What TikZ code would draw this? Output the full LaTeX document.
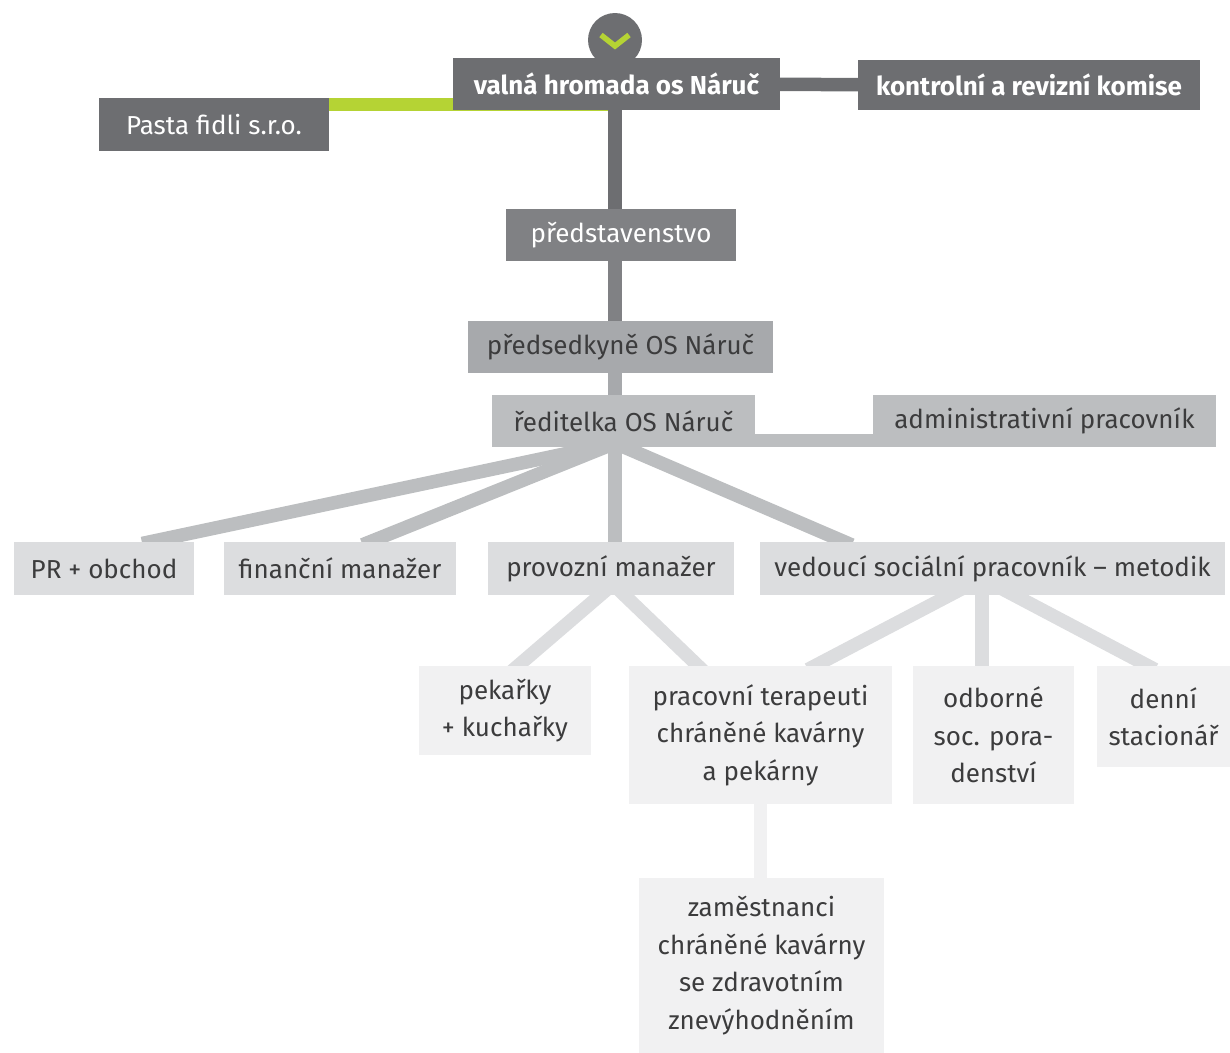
\documentclass[tikz,border=0pt]{standalone}
\usepackage{fontspec}
\setmainfont{Fira Sans}
\usepackage{xcolor}
\usepackage{tikz}
\usetikzlibrary{shapes,arrows}
\pgfdeclarelayer{background}
\pgfsetlayers{background,main}
\definecolor{boardGray}{HTML}{6D6E71}
\definecolor{memberGray}{HTML}{808184}
\definecolor{chairGray}{HTML}{A7A9AC}
\definecolor{headGray}{HTML}{BCBEC0}
\definecolor{teamGray}{HTML}{DCDDDF}
\definecolor{staffGray}{HTML}{F1F1F2}
\definecolor{linkGreen}{HTML}{B5D334}
\definecolor{textGray}{HTML}{3C3C3D}
\tikzstyle{box} = [rectangle, inner sep=0pt, align=center, font=\fontsize{26bp}{37.5bp}\selectfont]
\tikzstyle{topBlock} = [box, fill=boardGray, text=white, minimum height=52bp, font=\fontsize{26bp}{37.5bp}\selectfont\bfseries]
\tikzstyle{darkBlock} = [box, fill=boardGray, text=white, minimum height=53bp]
\tikzstyle{memberBlock} = [box, fill=memberGray, text=white, minimum height=52bp]
\tikzstyle{chairBlock} = [box, fill=chairGray, text=textGray, minimum height=52bp]
\tikzstyle{headBlock} = [box, fill=headGray, text=textGray, minimum height=52bp]
\tikzstyle{teamBlock} = [box, fill=teamGray, text=textGray, minimum height=53bp]
\tikzstyle{staffBlock} = [box, fill=staffGray, text=textGray]
\tikzstyle{line} = [draw, line width=13.5bp]
\tikzstyle{chevron} = [draw=linkGreen, line width=5.5bp]
\begin{document}
\begin{tikzpicture}[x=1bp, y=1bp]
    \useasboundingbox (0,0) rectangle (1230,-1053);
    % Place nodes
    \node [circle, fill=boardGray, minimum size=54bp, inner sep=0pt] (knob) at (615,-40) {};
    \node [topBlock, minimum width=327bp] (valna) at (616.5,-84) {valná hromada os Náruč};
    \node [topBlock, minimum width=342bp, minimum height=50bp] (komise) at (1029,-85) {kontrolní a revizní komise};
    \node [darkBlock, minimum width=230bp] (pasta) at (214,-124.5) {Pasta fidli s.r.o.};
    \node [memberBlock, minimum width=230bp] (pred) at (621,-235) {představenstvo};
    \node [chairBlock, minimum width=305bp] (predseda) at (620.5,-347) {předsedkyně OS Náruč};
    \node [headBlock, minimum width=263bp] (reditelka) at (623.5,-421) {ředitelka OS Náruč};
    \node [headBlock, minimum width=343bp] (admin) at (1044.5,-421) {administrativní pracovník};
    \node [teamBlock, minimum width=180bp] (pr) at (104,-568.5) {PR + obchod};
    \node [teamBlock, minimum width=232bp] (fin) at (340,-568.5) {finanční manažer};
    \node [teamBlock, minimum width=246bp] (prov) at (611,-568.5) {provozní manažer};
    \node [teamBlock, minimum width=465bp] (ved) at (992.5,-568.5) {vedoucí sociální pracovník -- metodik};
    \node [staffBlock, minimum width=172bp, minimum height=89bp] (pekarky) at (505,-710.5) {pekařky\\+ kuchařky};
    \node [staffBlock, minimum width=263bp, minimum height=138bp] (terapeuti) at (760.5,-735) {pracovní terapeuti\\chráněné kavárny\\a pekárny};
    \node [staffBlock, minimum width=161bp, minimum height=138bp] (poradenstvi) at (993.5,-735) {odborné\\soc. pora-\\denství};
    \node [staffBlock, minimum width=133bp, minimum height=101bp] (stacionar) at (1163.5,-716.5) {denní\\stacionář};
    \node [staffBlock, minimum width=245bp, minimum height=175bp] (zamestnanci) at (761.5,-965.5) {zaměstnanci\\chráněné kavárny\\se zdravotním\\znevýhodněním};
    \draw [chevron] ([shift={(-14bp,5bp)}]knob.center) -- ([yshift=-6bp]knob.center) -- ([shift={(14bp,5bp)}]knob.center);

    % Draw edges
    \begin{pgfonlayer}{background}
    \path [line, draw=boardGray] (valna) -- (komise);
    \path [line, draw=linkGreen] ([yshift=-6.5bp]pasta.north east) -- ([yshift=-6.5bp]pasta.north east -| valna.center);
    \path [line, draw=boardGray] (knob) -- (knob |- pred.center);
    \path [line, draw=memberGray] (knob |- pred.center) -- (knob |- predseda.center);
    \path [line, draw=chairGray] (knob |- predseda.center) -- (knob |- reditelka.center);
    \path [line, draw=headGray] ([yshift=6.5bp]reditelka.south east) -- ([yshift=6.5bp]admin.south west);
    \path (knob |- reditelka.south) ++(0,4) coordinate (fan);
    \path [line, draw=headGray, shorten >=-8bp] (fan) -- ([xshift=46bp]pr.north);
    \path [line, draw=headGray, shorten >=-8bp] (fan) -- ([xshift=30bp]fin.north);
    \path [line, draw=headGray] (fan) -- (fan |- prov.center);
    \path [line, draw=headGray, shorten >=-8bp] (fan) -- ([xshift=-148bp]ved.north);
    \path (prov.south) ++(2,11) coordinate (provFan);
    \path [line, draw=teamGray, shorten >=-8bp] (provFan) -- ([xshift=13bp]pekarky.north);
    \path [line, draw=teamGray, shorten >=-8bp] (provFan) -- ([xshift=-62.5bp]terapeuti.north);
    \path (ved.south) ++(-10.5,17) coordinate (vedFan);
    \path [line, draw=teamGray, shorten >=-8bp] (vedFan) -- ([xshift=54.5bp]terapeuti.north);
    \path [line, draw=teamGray] (vedFan) -- (vedFan |- poradenstvi.center);
    \path [line, draw=teamGray, shorten >=-8bp] (vedFan) -- ([xshift=-15.5bp]stacionar.north);
    \path [line, draw=staffGray] (terapeuti) -- (terapeuti |- zamestnanci.center);
    \end{pgfonlayer}
\end{tikzpicture}
\end{document}
